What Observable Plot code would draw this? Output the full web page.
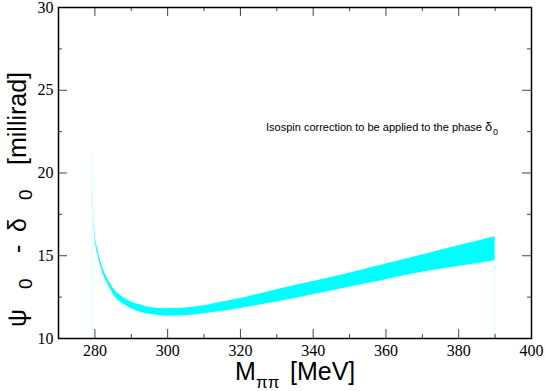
<!DOCTYPE html>
<html>
<head>
<meta charset="utf-8">
<script src="https://cdn.jsdelivr.net/npm/d3@7"></script>
<script src="https://cdn.jsdelivr.net/npm/@observablehq/plot@0.6"></script>
<style>
  body { margin: 0; background: #fff; }
  svg { display: block; }
</style>
</head>
<body>
<div id="chart"></div>
<script>
// M_pipi [MeV]
const mass  = [279.2, 279.5, 280.0, 281, 282, 284, 286, 288, 290, 293, 296, 300, 305, 310, 315, 320, 330, 340, 350, 360, 370, 380, 390];
// band upper / lower edges [millirad]
const upper = [21.3, 18.4, 16.5, 15.2, 14.4, 13.4, 12.8, 12.45, 12.2, 12.0, 11.85, 11.8, 11.85, 11.98, 12.2, 12.42, 12.95, 13.45, 13.95, 14.5, 15.05, 15.6, 16.15];
const lower = [21.3, 18.2, 16.2, 14.9, 14.1, 13.1, 12.4, 12.05, 11.8, 11.55, 11.43, 11.35, 11.38, 11.5, 11.65, 11.82, 12.2, 12.65, 13.1, 13.55, 14.0, 14.35, 14.7];

const xMajor = [280, 300, 320, 340, 360, 380, 400];
const xMinor = [290, 310, 330, 350, 370, 390];
const yMajor = [10, 15, 20, 25, 30];
const yMinor = [12.5, 17.5, 22.5, 27.5];

const data = mass.map((m, i) => ({m, lo: lower[i], hi: upper[i]}));
const edges = [data[0], data[data.length - 1]];

const W = 545, H = 391;
const mL = 58, mR = 14, mT = 7, mB = 53;
const pw = W - mL - mR, ph = H - mT - mB;
const tickCol = "#444";

const chart = Plot.plot({
  width: W, height: H,
  marginLeft: mL, marginRight: mR, marginTop: mT, marginBottom: mB,
  style: {background: "white"},
  x: {domain: [270, 400]},
  y: {domain: [10, 30]},
  marks: [
    Plot.ruleX(edges, {x: "m", y1: 10, y2: "lo", stroke: "#00ffff", strokeOpacity: 0.15}),
    Plot.areaY(data, {x: "m", y1: "lo", y2: "hi", fill: "#00ffff", curve: "monotone-x"}),
    Plot.tickX(xMajor, {x: d => d, insetTop: ph - 9, stroke: tickCol}),
    Plot.tickX(xMajor, {x: d => d, insetBottom: ph - 9, stroke: tickCol}),
    Plot.tickX(xMinor, {x: d => d, insetTop: ph - 4, stroke: tickCol}),
    Plot.tickX(xMinor, {x: d => d, insetBottom: ph - 4, stroke: tickCol}),
    Plot.tickY(yMajor, {y: d => d, insetRight: pw - 9, stroke: tickCol}),
    Plot.tickY(yMajor, {y: d => d, insetLeft: pw - 9, stroke: tickCol}),
    Plot.tickY(yMinor, {y: d => d, insetRight: pw - 4, stroke: tickCol}),
    Plot.tickY(yMinor, {y: d => d, insetLeft: pw - 4, stroke: tickCol}),
    Plot.axisX({ticks: xMajor, tickSize: 0, tickPadding: 6, label: null,
      fontFamily: "Liberation Serif, Times New Roman, serif", fontSize: 16, fill: "#000"}),
    Plot.axisY({ticks: yMajor, tickSize: 0, tickPadding: 5, label: null,
      fontFamily: "Liberation Serif, Times New Roman, serif", fontSize: 16, fill: "#000"}),
    Plot.frame({stroke: "#000", strokeWidth: 1.5})
  ]
});
document.getElementById("chart").appendChild(chart);

const svg = d3.select(chart);
const sans = "Liberation Sans, Arial, Helvetica, sans-serif";

// x-axis label
const xl = svg.append("text").attr("font-family", sans).attr("fill", "#000").attr("text-anchor", "start");
xl.append("tspan").attr("x", 235).attr("y", 380).attr("font-size", 25).text("M");
xl.append("tspan").attr("x", 256).attr("y", 388).attr("font-size", 17).text("ππ");
xl.append("tspan").attr("x", 290).attr("y", 380).attr("font-size", 25).text("[MeV]");

// y-axis label (rotated)
const yl = svg.append("text").attr("font-family", sans).attr("fill", "#000").attr("text-anchor", "start")
  .attr("transform", "translate(26,327) rotate(-90)");
yl.append("tspan").attr("x", 0).attr("y", 0).attr("font-size", 25).text("ψ");
yl.append("tspan").attr("x", 38).attr("y", 6).attr("font-size", 19).text("0");
yl.append("tspan").attr("x", 74).attr("y", 0).attr("font-size", 25).text("-");
yl.append("tspan").attr("x", 95).attr("y", 0).attr("font-size", 25).text("δ");
yl.append("tspan").attr("x", 127).attr("y", 6).attr("font-size", 19).text("0");
yl.append("tspan").attr("x", 162).attr("y", 0).attr("font-size", 25).text("[millirad]");

// annotation
const an = svg.append("text").attr("font-family", sans).attr("fill", "#000").attr("text-anchor", "start");
an.append("tspan").attr("x", 266).attr("y", 131).attr("font-size", 11).text("Isospin correction to be applied to the phase");
an.append("tspan").attr("x", 485).attr("y", 131).attr("font-size", 13).text("δ");
an.append("tspan").attr("x", 493).attr("y", 135).attr("font-size", 9).text("0");
</script>
</body>
</html>
